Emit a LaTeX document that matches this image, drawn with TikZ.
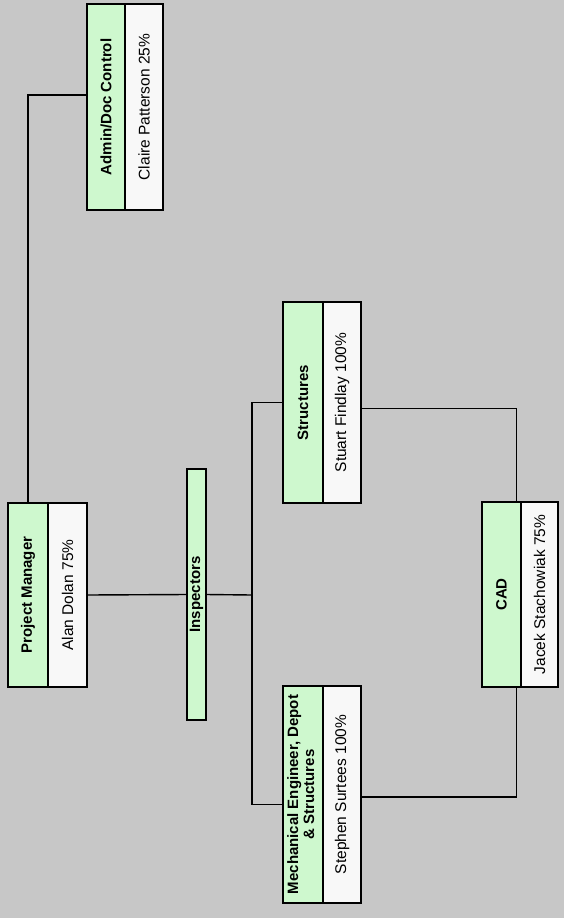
\documentclass[tikz,border=0pt]{standalone}
\usepackage{graphicx}
\usepackage{fontspec}
\setmainfont{Liberation Sans}
\usetikzlibrary{positioning}
\definecolor{bgGray}{RGB}{199,199,199}
\definecolor{titleGreen}{RGB}{206,248,206}
\definecolor{nameWhite}{RGB}{248,248,248}

\begin{document}
\begin{tikzpicture}[x=1pt, y=-1pt]
    \tikzset{titlebox/.style={draw, line width=1.3pt, fill=titleGreen, inner sep=0pt, outer sep=0pt, font=\bfseries\fontsize{15}{16}\selectfont}}
    \tikzset{namebox/.style={draw, line width=1.3pt, fill=nameWhite, inner sep=0pt, outer sep=0pt, font=\fontsize{15.5}{16}\selectfont}}
    \tikzset{link/.style={line width=1.4pt}}
    \def\tw{40pt};
    \def\nw{38pt};

    \fill[bgGray] (0,0) rectangle (564,918);
    \useasboundingbox (0,0) rectangle (564,918);

    \node[titlebox, minimum width=\tw, minimum height=184pt] (pmT) at (28,595) {\rotatebox{90}{Project Manager}};
    \node[namebox, minimum width=39pt, minimum height=184pt, right=0pt of pmT] (pmN) {\rotatebox{90}{Alan Dolan 75\%}};

    \node[titlebox, minimum width=\nw, minimum height=206pt] (adT) at (106,107) {\rotatebox{90}{Admin/Doc Control}};
    \node[namebox, minimum width=\nw, minimum height=206pt, right=0pt of adT] (adN) {\rotatebox{90}{Claire Patterson 25\%}};

    \node[titlebox, minimum width=19pt, minimum height=251pt] (insp) at (196.5,594.5) {\rotatebox{90}{Inspectors}};

    \node[titlebox, minimum width=\tw, minimum height=201pt] (stT) at (303,402.5) {\rotatebox{90}{Structures}};
    \node[namebox, minimum width=\nw, minimum height=201pt, right=0pt of stT] (stN) {\rotatebox{90}{Stuart Findlay 100\%}};

    \node[titlebox, minimum width=\tw, minimum height=217pt] (meT) at (303,794.5) {\rotatebox{90}{\begin{tabular}{@{}c@{}}Mechanical Engineer, Depot\\\& Structures\end{tabular}}};
    \node[namebox, minimum width=\nw, minimum height=217pt, right=0pt of meT] (meN) {\rotatebox{90}{Stephen Surtees 100\%}};

    \node[titlebox, minimum width=39pt, minimum height=185pt] (cadT) at (501.5,594.5) {\rotatebox{90}{CAD}};
    \node[namebox, minimum width=37pt, minimum height=185pt, right=0pt of cadT] (cadN) {\rotatebox{90}{Jacek Stachowiak 75\%}};

    \coordinate (bus) at (252,595);

    \draw[link] (pmT.north) |- (adT.west |- 0,95);
    \draw[link] (pmN.east) -- (insp.west);
    \draw[link] (insp.east) -- (bus);
    \draw[link] (stT.west) -| (bus) |- ([yshift=-10pt]meT.west);
    \draw[link] ([yshift=-6pt]stN.east) -| ([xshift=15pt]cadT.north);
    \draw[link] ([yshift=-2.5pt]meN.east) -| ([xshift=15pt]cadT.south);
\end{tikzpicture}
\end{document}
